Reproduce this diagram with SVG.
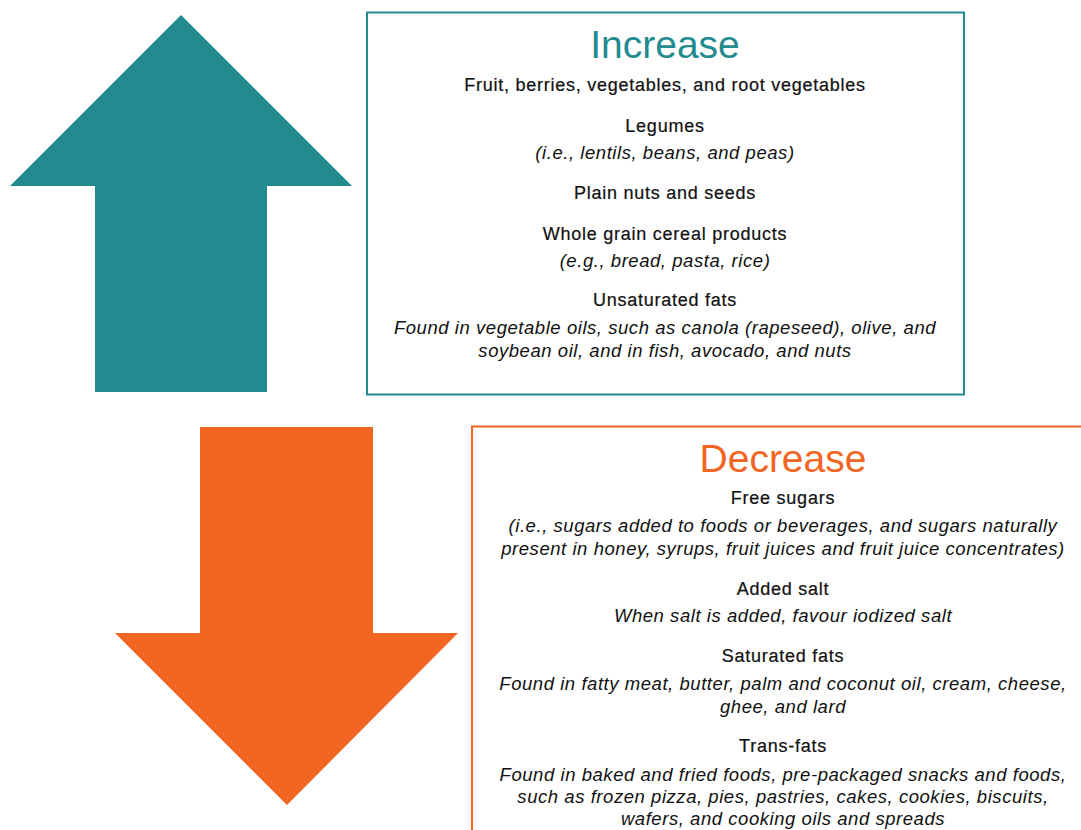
<svg xmlns="http://www.w3.org/2000/svg" width="1081" height="830" viewBox="0 0 1081 830">
<style>
.t{font-family:"Liberation Sans",Arial,sans-serif;text-anchor:middle;fill:#111}
.h{font-size:18px;letter-spacing:0.75px;stroke:#111;stroke-width:0.22px}
.i{font-size:18.5px;font-style:italic;letter-spacing:0.55px}
.title{font-size:39px}
</style>
<rect width="1081" height="830" fill="#fff"/>
<g id="increase-arrow">
<polygon points="181,15 352,186 267,186 267,392 95,392 95,186 10,186" fill="#238B8F"/>
</g>
<g id="decrease-arrow">
<polygon points="200,427 373,427 373,633 458,633 287,805 115,633 200,633" fill="#F26522"/>
</g>
<g id="increase-box">
<rect x="367" y="12.5" width="597" height="382" fill="none" stroke="#238B8F" stroke-width="2"/>
<text class="t title" x="665" y="58" style="fill:#238B8F">Increase</text>
<text class="t h" x="665" y="91">Fruit, berries, vegetables, and root vegetables</text>
<text class="t h" x="665" y="132">Legumes</text>
<text class="t i" x="665" y="159">(i.e., lentils, beans, and peas)</text>
<text class="t h" x="665" y="199">Plain nuts and seeds</text>
<text class="t h" x="665" y="240">Whole grain cereal products</text>
<text class="t i" x="665" y="267">(e.g., bread, pasta, rice)</text>
<text class="t h" x="665" y="306">Unsaturated fats</text>
<text class="t i" x="665" y="334">Found in vegetable oils, such as canola (rapeseed), olive, and</text>
<text class="t i" x="665" y="357">soybean oil, and in fish, avocado, and nuts</text>
</g>
<g id="decrease-box">
<rect x="472" y="426.5" width="700" height="500" fill="none" stroke="#F26522" stroke-width="2"/>
<text class="t title" x="783" y="472" style="fill:#F26522">Decrease</text>
<text class="t h" x="783" y="504">Free sugars</text>
<text class="t i" x="783" y="532">(i.e., sugars added to foods or beverages, and sugars naturally</text>
<text class="t i" x="783" y="555">present in honey, syrups, fruit juices and fruit juice concentrates)</text>
<text class="t h" x="783" y="595">Added salt</text>
<text class="t i" x="783" y="622">When salt is added, favour iodized salt</text>
<text class="t h" x="783" y="662">Saturated fats</text>
<text class="t i" x="783" y="690">Found in fatty meat, butter, palm and coconut oil, cream, cheese,</text>
<text class="t i" x="783" y="713">ghee, and lard</text>
<text class="t h" x="783" y="752">Trans-fats</text>
<text class="t i" x="783" y="781">Found in baked and fried foods, pre-packaged snacks and foods,</text>
<text class="t i" x="783" y="803">such as frozen pizza, pies, pastries, cakes, cookies, biscuits,</text>
<text class="t i" x="783" y="825">wafers, and cooking oils and spreads</text>
</g>
<g id="connectors"></g>
</svg>
